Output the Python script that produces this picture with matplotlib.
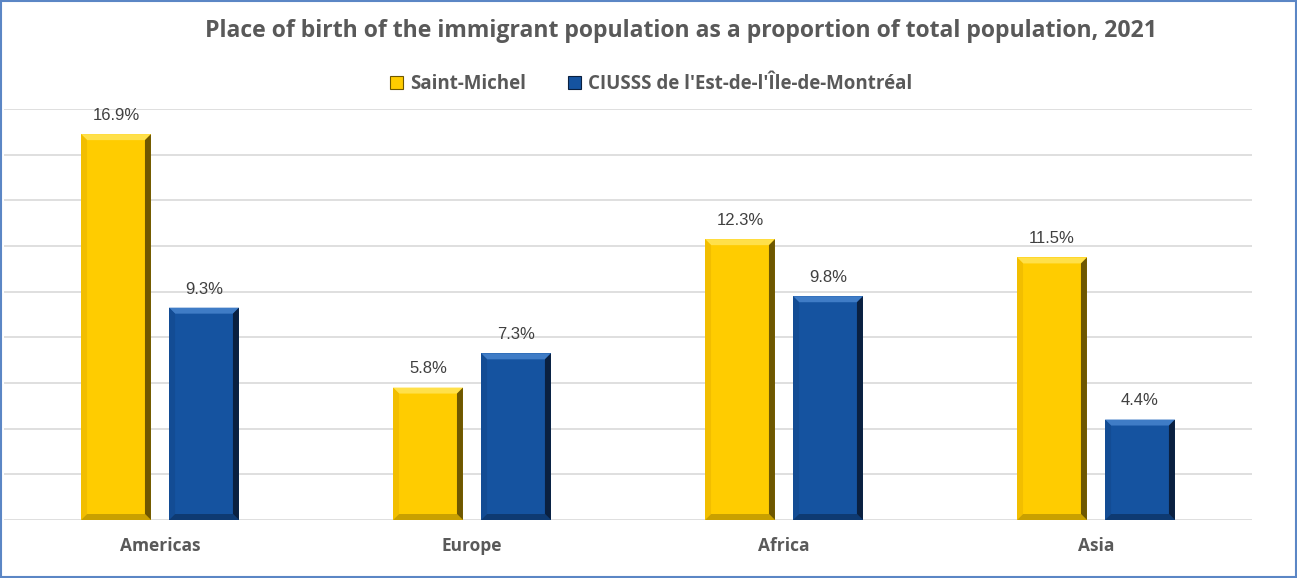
import matplotlib.pyplot as plt
from matplotlib.patches import Polygon, Rectangle
import numpy as np

regions = ['Americas', 'Europe', 'Africa', 'Asia']
saint_michel = [16.9, 5.8, 12.3, 11.5]
ciusss = [9.3, 7.3, 9.8, 4.4]
series_names = ['Saint-Michel', "CIUSSS de l'Est-de-l'Île-de-Montréal"]

plt.rcParams['font.family'] = ['Open Sans', 'DejaVu Sans']

# colours: main face, top, left, bottom, right bevels
yellow = dict(face='#FFCC00', top='#FFE04A', left='#F2BE00', bottom='#C9A000', right='#6E5700')
blue = dict(face='#1553A0', top='#3F7CC6', left='#134C94', bottom='#0E3A72', right='#0A2040')

fig = plt.figure(figsize=(12.97, 5.78), dpi=100)
ax = fig.add_axes([4 / 1297, 1 - 520 / 578, 1248 / 1297, 411 / 578])

x = np.arange(len(regions))
w = 0.224
off = 0.141
bars1 = ax.bar(x - off, saint_michel, w, color=yellow['face'], zorder=2)
bars2 = ax.bar(x + off, ciusss, w, color=blue['face'], zorder=2)

ax.set_xlim(-0.5, len(regions) - 0.5)
ax.set_ylim(0, 18)
ax.set_yticks(np.arange(0, 19, 2))
ax.yaxis.grid(True, color='#D9D9D9', linewidth=1.2, zorder=0)
ax.set_axisbelow(True)
ax.tick_params(axis='y', left=False, labelleft=False)
ax.tick_params(axis='x', bottom=False, pad=9)
ax.set_xticks(x)
ax.set_xticklabels(regions, fontsize=12.5, fontweight='bold', color='#595959')
for s in ax.spines.values():
    s.set_visible(False)

fig.canvas.draw()
inv = ax.transData.inverted()


def px(dx, dy):
    p0 = inv.transform((0, 0))
    p1 = inv.transform((dx, dy))
    return p1[0] - p0[0], p1[1] - p0[1]


bx, by = px(6, 6)


def bevel(rect, c):
    x0, y0 = rect.get_x(), rect.get_y()
    x1, y1 = x0 + rect.get_width(), y0 + rect.get_height()
    faces = [
        ([(x0, y1), (x1, y1), (x1 - bx, y1 - by), (x0 + bx, y1 - by)], c['top']),
        ([(x0, y0), (x0, y1), (x0 + bx, y1 - by), (x0 + bx, y0 + by)], c['left']),
        ([(x0, y0), (x1, y0), (x1 - bx, y0 + by), (x0 + bx, y0 + by)], c['bottom']),
        ([(x1, y0), (x1, y1), (x1 - bx, y1 - by), (x1 - bx, y0 + by)], c['right']),
    ]
    for pts, col in faces:
        ax.add_patch(Polygon(pts, closed=True, facecolor=col, edgecolor='none', zorder=3))


for r in bars1:
    bevel(r, yellow)
for r in bars2:
    bevel(r, blue)

for bars in (bars1, bars2):
    ax.bar_label(bars, labels=[f'{v:.1f}%' for v in bars.datavalues],
                 padding=8, fontsize=12, color='#404040', family=['Liberation Sans', 'DejaVu Sans'])

fig.text(0.525, 1 - 31 / 578, 'Place of birth of the immigrant population as a proportion of total population, 2021',
         ha='center', va='center', fontsize=16.6, fontweight='bold', color='#595959')

# legend
handles = [Rectangle((0, 0), 1, 1, facecolor=yellow['face'], edgecolor=yellow['right'], linewidth=0.8),
           Rectangle((0, 0), 1, 1, facecolor=blue['face'], edgecolor=blue['right'], linewidth=0.8)]
fig.legend(handles, series_names, loc='center', bbox_to_anchor=(0.502, 1 - 84 / 578), ncol=2,
           frameon=False, handlelength=0.7, handleheight=0.7, handletextpad=0.4, columnspacing=2.2,
           prop=dict(size=13.5, weight='bold'), labelcolor='#595959')

fig.add_artist(Rectangle((0.0008, 0.0015), 0.9984, 0.997, transform=fig.transFigure,
                         fill=False, edgecolor='#5B86C5', linewidth=1.5))

fig.savefig('out.png', dpi=100)
